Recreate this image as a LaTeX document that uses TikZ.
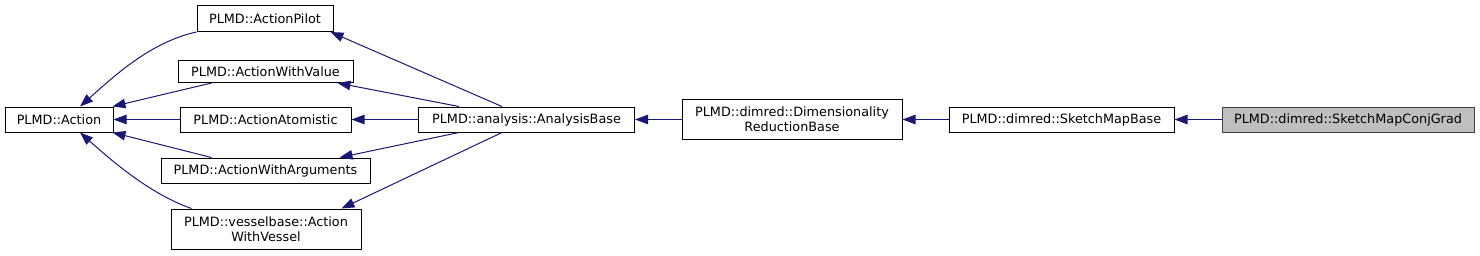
\documentclass[tikz,border=0pt]{standalone}
\usepackage{fontspec}
\setmainfont{DejaVu Sans}
\usetikzlibrary{arrows.meta}
\definecolor{edgeblue}{HTML}{191970}
\definecolor{hlgray}{HTML}{BFBFBF}
\definecolor{hlborder}{HTML}{404040}
\begin{document}
\begin{tikzpicture}[x=1pt,y=-1pt,
  cls/.style={draw=black,fill=white,line width=1pt,inner sep=0pt,align=center,
    font=\fontsize{12.8}{15}\selectfont},
  hl/.style={cls,fill=hlgray,draw=hlborder},
  edge/.style={draw=edgeblue,line width=1pt,{Triangle[length=13pt,width=9.5pt,fill=edgeblue]}-}
]
\useasboundingbox (0,0) rectangle (1480,255);
\node[cls,minimum width=108pt,minimum height=25pt] (act) at (59,119.5) {PLMD::Action};
\node[cls,minimum width=136pt,minimum height=26pt] (pilot) at (265,18.5) {PLMD::ActionPilot};
\node[cls,minimum width=175pt,minimum height=22pt] (value) at (265.5,71.5) {PLMD::ActionWithValue};
\node[cls,minimum width=171pt,minimum height=25pt] (atom) at (265.5,119.5) {PLMD::ActionAtomistic};
\node[cls,minimum width=209pt,minimum height=25pt] (args) at (265.5,170.5) {PLMD::ActionWithArguments};
\node[cls,minimum width=190pt,minimum height=40pt] (vessel) at (266,229) {PLMD::vesselbase::Action\\WithVessel};
\node[cls,minimum width=216pt,minimum height=25pt] (anal) at (526.5,119.5) {PLMD::analysis::AnalysisBase};
\node[cls,minimum width=220pt,minimum height=40pt] (dim) at (792,119.5) {PLMD::dimred::Dimensionality\\ReductionBase};
\node[cls,minimum width=225pt,minimum height=25pt] (smb) at (1061.5,119.5) {PLMD::dimred::SketchMapBase};
\node[hl,minimum width=252pt,minimum height=25pt] (smc) at (1348,119.5) {PLMD::dimred::SketchMapConjGrad};
% edges to Action
\draw[edge] ([xshift=21pt]act.north) .. controls (112,78) and (150,42) .. (pilot.south west);
\draw[edge] ([xshift=-1pt]act.north east) -- ([xshift=34pt]value.south west);
\draw[edge] (act.east) -- (atom.west);
\draw[edge] ([xshift=-1pt]act.south east) -- ([xshift=51pt]args.north west);
\draw[edge] ([xshift=21pt]act.south) .. controls (112,161) and (150,194) .. ([xshift=21pt]vessel.north west);
% edges to AnalysisBase
\draw[edge] ([xshift=-3pt]pilot.south east) -- ([xshift=84pt]anal.north west);
\draw[edge] ([xshift=-16pt]value.south east) -- ([xshift=41pt]anal.north west);
\draw[edge] (atom.east) -- (anal.west);
\draw[edge] ([xshift=-31pt]args.north east) -- ([xshift=41pt]anal.south west);
\draw[edge] ([xshift=-20pt]vessel.north east) -- ([xshift=84pt]anal.south west);
% chain
\draw[edge] (anal.east) -- (dim.west);
\draw[edge] (dim.east) -- (smb.west);
\draw[edge] (smb.east) -- (smc.west);
\end{tikzpicture}
\end{document}
